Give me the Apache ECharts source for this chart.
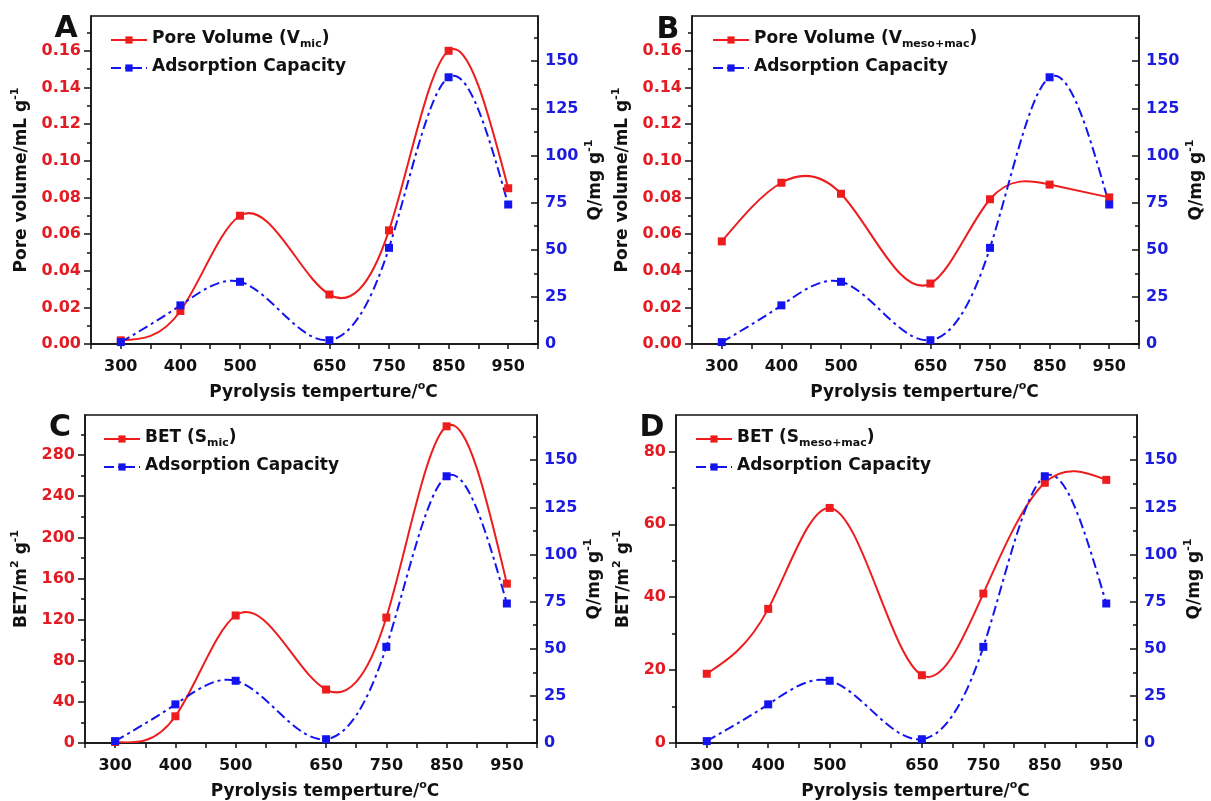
<!DOCTYPE html>
<html>
<head>
<meta charset="utf-8">
<script src="https://cdn.jsdelivr.net/npm/echarts@6/dist/echarts.min.js"></script>
<style>
html,body{margin:0;padding:0;background:#fff;}
#chart{width:1211px;height:801px;}
</style>
</head>
<body>
<div id="chart"></div>
<script>
// ---------- DATA ----------
const temps = [300, 400, 500, 650, 750, 850, 950];
const adsorptionQ = [1, 20.5, 33, 2, 51, 141.5, 74];
const poreVolumeMic = [0.002, 0.018, 0.070, 0.027, 0.062, 0.160, 0.085];
const poreVolumeMesoMac = [0.056, 0.088, 0.082, 0.033, 0.079, 0.087, 0.080];
const betMic = [1, 26, 124, 52, 122, 308, 155];
const betMesoMac = [19, 36.8, 64.5, 18.6, 41, 71.4, 72.2];

// ---------- TICKS ----------
const xTickValues = [250, 300, 350, 400, 450, 500, 550, 600, 650, 700, 750, 800, 850, 900, 950, 1000];
const poreTicks = [0, 0.02, 0.04, 0.06, 0.08, 0.10, 0.12, 0.14, 0.16];
const poreMinorTicks = [0.01, 0.03, 0.05, 0.07, 0.09, 0.11, 0.13, 0.15, 0.17];
const betMicTicks = [0, 40, 80, 120, 160, 200, 240, 280];
const betMicMinorTicks = [20, 60, 100, 140, 180, 220, 260, 300];
const betMesoTicks = [0, 20, 40, 60, 80];
const betMesoMinorTicks = [10, 30, 50, 70];
const qTicks = [0, 25, 50, 75, 100, 125, 150];
const qMinorTicks = [12.5, 37.5, 62.5, 87.5, 112.5, 137.5, 162.5];

// ---------- STYLE ----------
const FONT = 'DejaVu Sans';
const INK = '#111111';
const RED = '#ee1c1c';
const BLUE = '#1414f0';
const RED_TXT = '#e31b23';
const BLUE_TXT = '#1c1ce0';
const BLUE_DASH = [10, 4, 3, 4];

const nameRich = {
  m:   {fontFamily: FONT, fontWeight: 'bold', fontSize: 17, color: INK, lineHeight: 20, verticalAlign: 'bottom'},
  sup: {fontFamily: FONT, fontWeight: 'bold', fontSize: 11, color: INK, lineHeight: 11, verticalAlign: 'top', padding: [0, 0, 17, 0]},
  deg: {fontFamily: FONT, fontWeight: 'bold', fontSize: 11, color: INK, lineHeight: 10, verticalAlign: 'top'}
};
const legendRich = {
  lm:   {fontFamily: FONT, fontWeight: 'bold', fontSize: 17, color: INK, lineHeight: 20, verticalAlign: 'top'},
  lsub: {fontFamily: FONT, fontWeight: 'bold', fontSize: 11, color: INK, lineHeight: 11, verticalAlign: 'bottom', padding: [12, 0, 0, 0]}
};
const legendText = {
  PV_mic: '{lm|Pore Volume (V}{lsub|mic}{lm|)}',
  PV_mm:  '{lm|Pore Volume (V}{lsub|meso+mac}{lm|)}',
  BET_mic:'{lm|BET (S}{lsub|mic}{lm|)}',
  BET_mm: '{lm|BET (S}{lsub|meso+mac}{lm|)}',
  Q_A: '{lm|Adsorption Capacity}{lsub| }',
  Q_B: '{lm|Adsorption Capacity}{lsub| }',
  Q_C: '{lm|Adsorption Capacity}{lsub| }',
  Q_D: '{lm|Adsorption Capacity}{lsub| }'
};

const panels = [
  {letter: 'A', lx: 66, ly: 29, grid: {left: 91, top: 16, width: 447, height: 328},
   yMax: 0.179, yTicks: poreTicks, yMinor: poreMinorTicks, dec: 2,
   yName: '{m|Pore volume/mL g}{sup|-1}', leftGap: 43, red: poreVolumeMic, redKey: 'PV_mic', blueKey: 'Q_A',
   legend: {left: 110, top: 27}, xPad: 18},
  {letter: 'B', lx: 668, ly: 30, grid: {left: 692, top: 16, width: 447, height: 328},
   yMax: 0.179, yTicks: poreTicks, yMinor: poreMinorTicks, dec: 2,
   yName: '{m|Pore volume/mL g}{sup|-1}', leftGap: 43, red: poreVolumeMesoMac, redKey: 'PV_mm', blueKey: 'Q_B',
   legend: {left: 712, top: 27}, xPad: 18},
  {letter: 'C', lx: 60, ly: 428, grid: {left: 85, top: 415, width: 452, height: 328},
   yMax: 319, yTicks: betMicTicks, yMinor: betMicMinorTicks, dec: 0,
   yName: '{m|BET/m}{deg|2}{m| g}{sup|-1}', leftGap: 37, red: betMic, redKey: 'BET_mic', blueKey: 'Q_C',
   legend: {left: 103, top: 426}, xPad: 28},
  {letter: 'D', lx: 652, ly: 428, grid: {left: 676, top: 415, width: 461, height: 328},
   yMax: 90, yTicks: betMesoTicks, yMinor: betMesoMinorTicks, dec: 0,
   yName: '{m|BET/m}{deg|2}{m| g}{sup|-1}', leftGap: 28, red: betMesoMac, redKey: 'BET_mm', blueKey: 'Q_D',
   legend: {left: 695, top: 426}, xPad: 18}
];

// Natural cubic spline through pixel points (drawing style, like Origin's "Spline" connector)
function splinePath(pts) {
  const n = pts.length;
  const x = pts.map(p => p[0]), y = pts.map(p => p[1]);
  const h = [];
  for (let i = 0; i < n - 1; i++) h[i] = x[i + 1] - x[i];
  const M = new Array(n).fill(0);
  if (n > 2) {
    const sub = [], diag = [], sup = [], rhs = [];
    for (let i = 1; i < n - 1; i++) {
      sub[i] = h[i - 1];
      diag[i] = 2 * (h[i - 1] + h[i]);
      sup[i] = h[i];
      rhs[i] = 6 * ((y[i + 1] - y[i]) / h[i] - (y[i] - y[i - 1]) / h[i - 1]);
    }
    for (let i = 2; i < n - 1; i++) {
      const w = sub[i] / diag[i - 1];
      diag[i] -= w * sup[i - 1];
      rhs[i] -= w * rhs[i - 1];
    }
    M[n - 2] = rhs[n - 2] / diag[n - 2];
    for (let i = n - 3; i >= 1; i--) M[i] = (rhs[i] - sup[i] * M[i + 1]) / diag[i];
  }
  let d = 'M' + x[0] + ',' + y[0];
  for (let i = 0; i < n - 1; i++) {
    const s = (y[i + 1] - y[i]) / h[i];
    const d0 = s - h[i] * (2 * M[i] + M[i + 1]) / 6;
    const d1 = s + h[i] * (M[i] + 2 * M[i + 1]) / 6;
    d += ' C' + (x[i] + h[i] / 3) + ',' + (y[i] + h[i] * d0 / 3) + ' ' +
         (x[i + 1] - h[i] / 3) + ',' + (y[i + 1] - h[i] * d1 / 3) + ' ' + x[i + 1] + ',' + y[i + 1];
  }
  return d;
}
function splineRenderer(color, dash) {
  return function (params, api) {
    if (params.dataIndexInside !== 0) return null;
    const pts = [];
    for (let k = 0; k < params.dataInsideLength; k++) {
      pts.push(api.coord([api.value(0, k), api.value(1, k)]));
    }
    return {
      type: 'path',
      shape: {pathData: splinePath(pts)},
      style: {fill: 'none', stroke: color, lineWidth: 2, lineDash: dash || null}
    };
  };
}

const axisLineStyle = {color: INK, width: 1.5};
const grids = [], xAxes = [], yAxes = [], series = [], legends = [], graphics = [];

panels.forEach((p, i) => {
  grids.push(Object.assign({show: true, borderColor: INK, borderWidth: 1.5, backgroundColor: 'transparent',
    containLabel: false, outerBoundsMode: 'none'}, p.grid));

  xAxes.push({
    gridIndex: i, type: 'value', min: 250, max: 1000,
    axisLine: {show: true, onZero: false, lineStyle: axisLineStyle},
    axisTick: {show: true, customValues: xTickValues, length: 5, lineStyle: axisLineStyle},
    axisLabel: {show: true, customValues: temps, formatter: v => String(v), margin: 15,
      fontFamily: FONT, fontWeight: 'bold', fontSize: 16, lineHeight: 16, color: INK},
    splitLine: {show: false},
    name: '{m|Pyrolysis temperture/}{deg|o}{m|C}', nameLocation: 'middle', nameGap: 37,
    nameTextStyle: {rich: nameRich, padding: [0, 0, 0, p.xPad]}
  });

  yAxes.push({
    gridIndex: i, type: 'value', position: 'left', min: 0, max: p.yMax,
    axisLine: {show: true, onZero: false, lineStyle: axisLineStyle},
    axisTick: {show: true, customValues: p.yTicks, length: 7, lineStyle: axisLineStyle},
    axisLabel: {show: true, customValues: p.yTicks, formatter: v => v.toFixed(p.dec), margin: 10,
      fontFamily: FONT, fontWeight: 'bold', fontSize: 16, color: RED_TXT},
    splitLine: {show: false},
    name: p.yName, nameLocation: 'middle', nameGap: p.leftGap,
    nameTextStyle: {rich: nameRich}
  });
  yAxes.push({
    gridIndex: i, type: 'value', position: 'left', min: 0, max: p.yMax,
    axisLine: {show: false},
    axisTick: {show: true, customValues: p.yMinor, length: 4, lineStyle: axisLineStyle},
    axisLabel: {show: false}, splitLine: {show: false}
  });
  yAxes.push({
    gridIndex: i, type: 'value', position: 'right', min: 0, max: 174,
    axisLine: {show: true, onZero: false, lineStyle: axisLineStyle},
    axisTick: {show: true, inside: true, customValues: qTicks, length: 7, lineStyle: axisLineStyle},
    axisLabel: {show: true, customValues: qTicks, formatter: v => String(v), margin: 7,
      fontFamily: FONT, fontWeight: 'bold', fontSize: 16, color: BLUE_TXT},
    splitLine: {show: false},
    name: '{m|Q/mg g}{sup|-1}', nameLocation: 'middle', nameGap: 46,
    nameTextStyle: {rich: nameRich}
  });
  yAxes.push({
    gridIndex: i, type: 'value', position: 'right', min: 0, max: 174,
    axisLine: {show: false},
    axisTick: {show: true, inside: true, customValues: qMinorTicks, length: 4, lineStyle: axisLineStyle},
    axisLabel: {show: false}, splitLine: {show: false}
  });

  const redData = temps.map((t, k) => [t, p.red[k]]);
  const blueData = temps.map((t, k) => [t, adsorptionQ[k]]);

  series.push({
    type: 'custom', coordinateSystem: 'cartesian2d', xAxisIndex: i, yAxisIndex: 4 * i,
    data: redData, encode: {x: 0, y: 1}, renderItem: splineRenderer(RED, null),
    clip: true, silent: true, z: 2
  });
  series.push({
    type: 'custom', coordinateSystem: 'cartesian2d', xAxisIndex: i, yAxisIndex: 4 * i + 2,
    data: blueData, encode: {x: 0, y: 1}, renderItem: splineRenderer(BLUE, BLUE_DASH),
    clip: true, silent: true, z: 2
  });
  series.push({
    type: 'line', name: p.redKey, xAxisIndex: i, yAxisIndex: 4 * i,
    data: redData, symbol: 'rect', symbolSize: 8, showSymbol: true,
    itemStyle: {color: RED}, lineStyle: {color: RED, width: 2, opacity: 0}, z: 3,
    emphasis: {disabled: true}, silent: true
  });
  series.push({
    type: 'line', name: p.blueKey, xAxisIndex: i, yAxisIndex: 4 * i + 2,
    data: blueData, symbol: 'rect', symbolSize: 8, showSymbol: true,
    itemStyle: {color: BLUE}, lineStyle: {color: BLUE, width: 2, type: BLUE_DASH, opacity: 0}, z: 4,
    emphasis: {disabled: true}, silent: true
  });

  legends.push({
    left: p.legend.left, top: p.legend.top, orient: 'vertical', padding: 0,
    itemGap: 5, itemWidth: 36, itemHeight: 9, selectedMode: false,
    data: [
      {name: p.redKey, lineStyle: {color: RED, width: 2, type: 'solid', opacity: 1}},
      {name: p.blueKey, lineStyle: {color: BLUE, width: 2, type: BLUE_DASH, opacity: 1}}
    ],
    formatter: n => legendText[n],
    textStyle: {rich: legendRich}
  });

  graphics.push({
    type: 'text', x: p.lx, y: p.ly,
    style: {text: p.letter, fontFamily: FONT, fontWeight: 'bold', fontSize: 30, fill: INK,
      align: 'center', verticalAlign: 'middle'}
  });
});

const chart = echarts.init(document.getElementById('chart'), null, {renderer: 'canvas'});
chart.setOption({
  backgroundColor: '#ffffff',
  animation: false,
  grid: grids,
  xAxis: xAxes,
  yAxis: yAxes,
  legend: legends,
  series: series,
  graphic: graphics
});
</script>
</body>
</html>
